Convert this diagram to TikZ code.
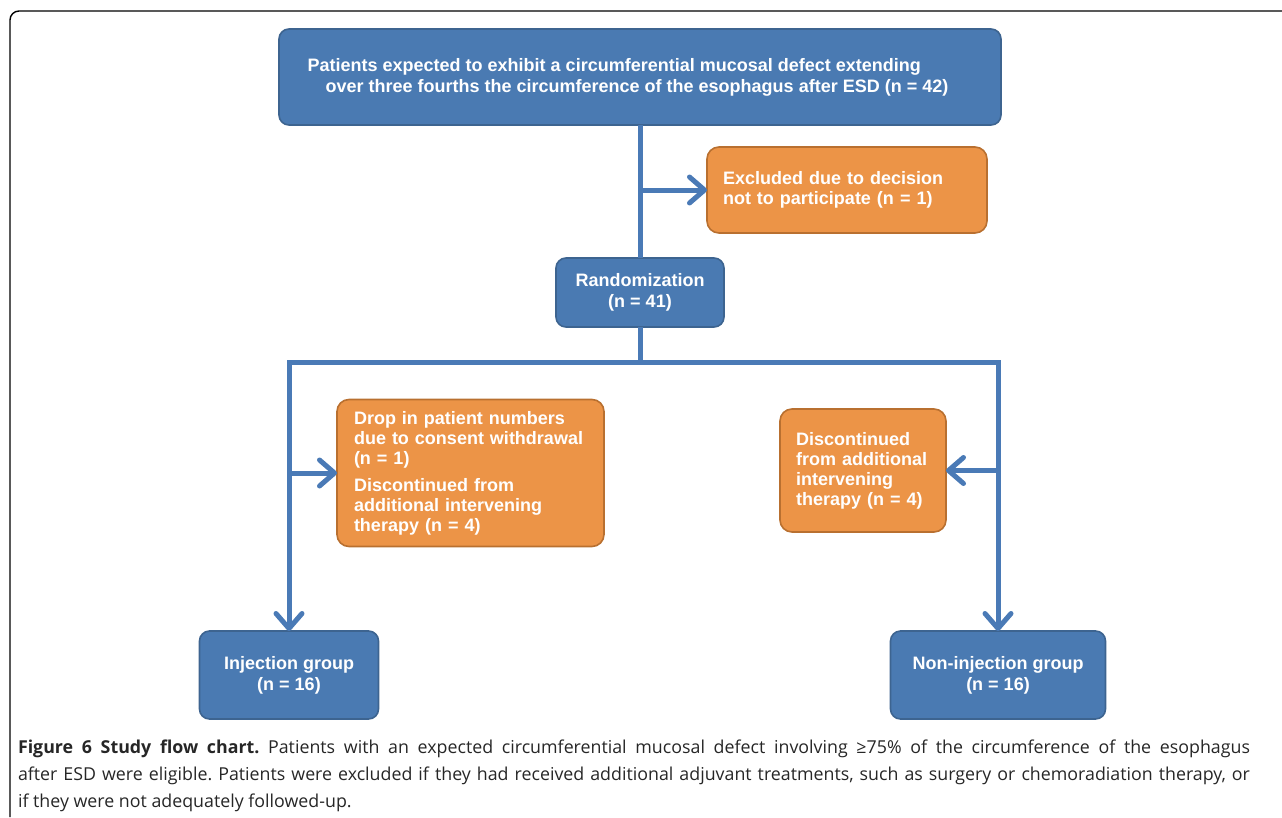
\documentclass[tikz,border=0pt]{standalone}
\usepackage{fontspec}
\setmainfont{Liberation Sans}
\newfontfamily\capfont{Open Sans}
\usetikzlibrary{arrows.meta}

\definecolor{boxblue}{HTML}{4A7AB2}
\definecolor{boxblueline}{HTML}{3D6490}
\definecolor{boxorange}{HTML}{EC9447}
\definecolor{boxorangeline}{HTML}{B97030}
\definecolor{flow}{HTML}{4A7AB6}

\begin{document}
\begin{tikzpicture}[
  x=1pt, y=-1pt,
  line join=miter,
  every node/.style={inner sep=0pt, outer sep=0pt},
  bluebox/.style={rounded corners=10pt, fill=boxblue, draw=boxblueline, line width=1.6pt,
    text=white, font=\fontsize{18}{21}\selectfont\bfseries, align=center},
  orangebox/.style={rounded corners=12pt, fill=boxorange, draw=boxorangeline, line width=1.6pt,
    text=white, font=\fontsize{18}{20}\selectfont\bfseries, align=left},
  flow/.style={draw=flow, line width=5pt},
  tip/.style={-{Straight Barb[length=15pt, width=26pt, round]}},
  frame/.style={draw=black, line width=1.4pt, rounded corners=9pt},
]
\useasboundingbox (0,0) rectangle (1282,817);
\draw[frame] (10,817) -- (10,11) -- (1282,11);

\node[bluebox, align=left, minimum width=722pt, minimum height=96pt] (top) at (640,77)
  {Patients expected to exhibit a circumferential mucosal defect extending\\
   \hspace*{18pt}over three fourths the circumference of the esophagus after ESD (n = 42)\hspace*{24pt}};
\node[orangebox, minimum width=280pt, minimum height=86pt, text width=248pt] (excl) at (847,190)
  {Excluded due to decision\\ not to participate (n = 1)};
\node[bluebox, minimum width=168pt, minimum height=69pt] (rand) at (640,292.5)
  {Randomization\\ (n = 41)};
\node[orangebox, minimum width=267pt, minimum height=147pt, text width=233pt] (drop) at (470.5,473)
  {Drop in patient numbers\\ due to consent withdrawal\\ (n = 1)\\[7pt]
   Discontinued from\\ additional intervening\\ therapy (n = 4)};
\node[orangebox, minimum width=166pt, minimum height=123pt, text width=134pt] (disc) at (863,470.5)
  {Discontinued\\ from additional\\ intervening\\ therapy (n = 4)};
\node[bluebox, minimum width=179pt, minimum height=88pt] (inj) at (289,675)
  {Injection group\\ (n = 16)};
\node[bluebox, minimum width=215pt, minimum height=88pt] (noninj) at (998,675)
  {Non-injection group\\ (n = 16)};
\coordinate (fork) at (640,362);

\draw[flow] (top.south) -- (rand.north);
\draw[flow, tip] (rand |- excl.west) -- (excl.west);
\draw[flow] (rand.south) -- (fork);
\draw[flow, tip] (fork) -| (inj.north);
\draw[flow, tip] (fork) -| (noninj.north);
\draw[flow, tip] (inj |- drop.west) -- (drop.west);
\draw[flow, tip] (noninj |- disc.east) -- (disc.east);

\node[anchor=north west, align=left, text=black!85, font=\capfont\fontsize{17.8}{27}\selectfont\frenchspacing] (caption) at (18,740)
  {\makebox[1232pt][s]{\textbf{Figure 6 Study flow chart.} Patients with an expected circumferential mucosal defect involving ≥75\% of the circumference of the esophagus}\\
   \makebox[1232pt][s]{after ESD were eligible. Patients were excluded if they had received additional adjuvant treatments, such as surgery or chemoradiation therapy, or}\\
   if they were not adequately followed-up.};
\end{tikzpicture}
\end{document}
